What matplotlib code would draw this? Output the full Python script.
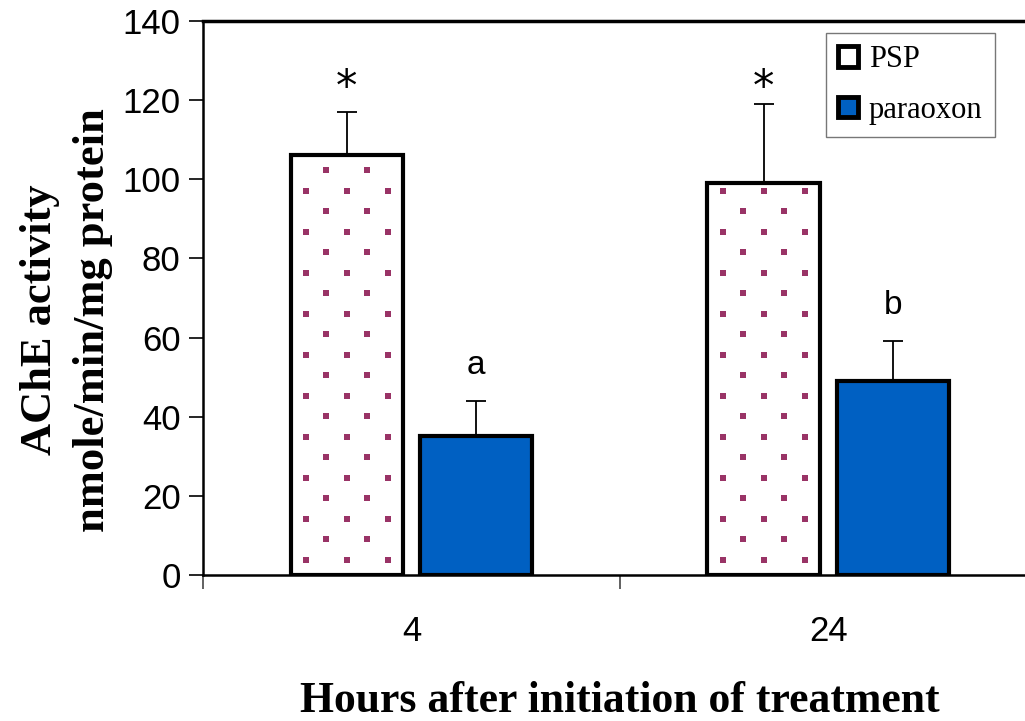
import matplotlib
matplotlib.use("Agg")
import matplotlib.pyplot as plt
from matplotlib.patches import Rectangle
import numpy as np

# data
hours = ["4", "24"]
psp_mean = [106, 99]
psp_err = [11, 20]
parax_mean = [35, 49]
parax_err = [9, 10]
psp_marks = ["*", "*"]
parax_marks = ["a", "b"]

blue = "#0060c2"
dot_color = "#993366"
serif = "Liberation Serif"
sans = "Liberation Sans"

fig = plt.figure(figsize=(10.25, 7.21), dpi=100)
ax = fig.add_axes([0.198, 0.2025, 0.8135, 0.7685])

x = np.arange(len(hours))
w = 0.27
off = 0.155

b1 = ax.bar(x - off, psp_mean, w, color="white", edgecolor="black", linewidth=3, zorder=3)
b2 = ax.bar(x + off, parax_mean, w, color=blue, edgecolor="black", linewidth=3, zorder=3)

# error bars, upper only
ax.errorbar(x - off, psp_mean, yerr=[np.zeros(len(x)), psp_err], fmt="none",
            ecolor="black", elinewidth=1.3, capsize=7, capthick=1.3, zorder=2)
ax.errorbar(x + off, parax_mean, yerr=[np.zeros(len(x)), parax_err], fmt="none",
            ecolor="black", elinewidth=1.3, capsize=7, capthick=1.3, zorder=2)

# dotted fill pattern on the PSP bars
dx = 0.0983
dy = 5.18
for rect in b1:
    cx = rect.get_x() + rect.get_width() / 2
    xs, ys = [], []
    k = 0
    yy = 3.8
    while yy < rect.get_height():
        if k % 2 == 0:
            cols = [cx - dx, cx, cx + dx]
        else:
            cols = [cx - dx / 2, cx + dx / 2]
        xs += cols
        ys += [yy] * len(cols)
        k += 1
        yy += dy
    sc = ax.scatter(xs, ys, marker="s", s=14, color=dot_color, linewidths=0, zorder=4)
    sc.set_clip_path(rect)

# significance marks
for i in range(len(hours)):
    ax.text(x[i] - off, 123, psp_marks[i], ha="center", va="center",
            fontsize=31, family="DejaVu Sans")
    ax.text(x[i] + off, parax_mean[i] + parax_err[i] + 9, parax_marks[i],
            ha="center", va="center", fontsize=24, family=sans)

ax.set_ylim(0, 140)
ax.set_xlim(-0.5, 1.5)
ax.set_yticks(range(0, 141, 20))
ax.set_xticks(x)
ax.set_xticklabels(hours)
ax.set_xticks([-0.5, 0.5, 1.5], minor=True)
ax.tick_params(axis="x", which="major", length=0, pad=29)
ax.tick_params(axis="x", which="minor", length=10, width=1.3, color="#555555")
ax.tick_params(axis="y", length=10, width=1.2, pad=6)
for lab in ax.get_xticklabels() + ax.get_yticklabels():
    lab.set_fontfamily(sans)
    lab.set_fontsize(25)

for s in ["left", "bottom", "top"]:
    ax.spines[s].set_linewidth(1.8)
ax.spines["top"].set_linewidth(2.5)
ax.spines["right"].set_visible(False)

ax.set_ylabel("AChE activity\nnmole/min/mg protein", family=serif, fontweight="bold",
              fontsize=32, linespacing=1.4)
ax.yaxis.set_label_coords(-0.108, 0.46)
ax.set_xlabel("Hours after initiation of treatment", family=serif, fontweight="bold",
              fontsize=31.5, va="center")
ax.xaxis.set_label_coords(0.5, -0.2274)

handles = [Rectangle((0, 0), 1, 1, facecolor="white", edgecolor="black", linewidth=3.5),
           Rectangle((0, 0), 1, 1, facecolor=blue, edgecolor="black", linewidth=3.5)]
leg = ax.legend(handles, ["PSP", "paraoxon"], loc="upper right", bbox_to_anchor=(0.9496, 0.978),
                prop={"family": serif, "size": 22}, frameon=True, fancybox=False,
                handlelength=0.65, handleheight=0.65, handletextpad=0.35, labelspacing=0.7,
                borderpad=0.4, borderaxespad=0)
leg.get_frame().set_edgecolor("#555555")
leg.get_frame().set_linewidth(1)

fig.savefig("out.png", dpi=100)
